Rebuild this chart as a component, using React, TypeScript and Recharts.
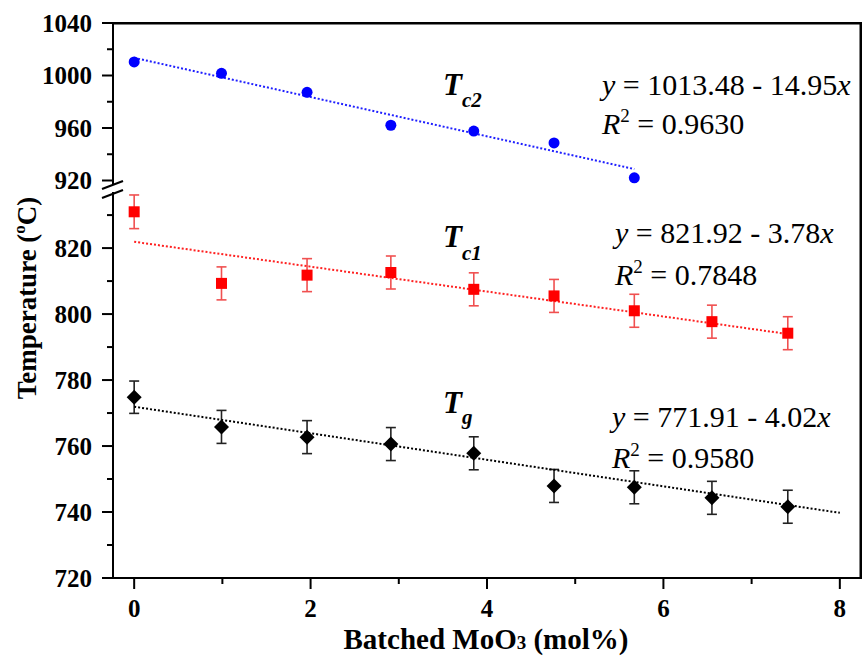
import React from 'react'
import { ScatterChart, Scatter, XAxis, YAxis, ErrorBar } from 'recharts'

// batched MoO3 content (mol%)
const molPct = [0, 0.99, 1.96, 2.91, 3.85, 4.76, 5.67, 6.55, 7.41]

// crystallisation / glass transition temperatures (°C)
const tc2Values = [1010.3, 1001.7, 987.2, 962.1, 957.7, 948.6, 922.0]
const tc1Values = [831.0, 809.3, 811.8, 812.6, 807.5, 805.5, 801.0, 797.7, 794.2]
const tc1Err = [5.1, 5, 5, 5, 5, 5, 5, 5, 5]
const tgValues = [774.8, 765.8, 762.7, 760.6, 757.8, 747.9, 747.5, 744.3, 741.6]
const tgErr = [4.9, 5, 5, 5, 5, 5, 5, 5, 5]

// linear fit end points
const tc2FitX = [0, 5.67]
const tc2FitY = [1013.48, 928.7]
const tc1FitX = [0, 7.45]
const tc1FitY = [821.92, 793.8]
const tgFitX = [0, 8]
const tgFitY = [771.91, 739.75]

const xTicks = [0, 1, 2, 3, 4, 5, 6, 7, 8]
const upperTicks = [920, 940, 960, 980, 1000, 1020, 1040]
const lowerTicks = [720, 730, 740, 750, 760, 770, 780, 790, 800, 810, 820, 830]

const xDomain = [-0.24, 8.24]
const upperDomain = [917.33, 1040]
const lowerDomain = [720, 837]

const FONT = '"Liberation Serif", "Times New Roman", serif'
const serif = { fontFamily: FONT }

const tc2Data = tc2Values.map((y, i) => ({ x: molPct[i], y }))
const tc1Data = tc1Values.map((y, i) => ({ x: molPct[i], y, err: tc1Err[i] }))
const tgData = tgValues.map((y, i) => ({ x: molPct[i], y, err: tgErr[i] }))
const toFit = (xs: number[], ys: number[]) => xs.map((x, i) => ({ x, y: ys[i] }))

const makeYTick = (step: number) => (props: any) => {
  const { x, y, payload } = props
  const major = payload.value % step === 0
  return (
    <g>
      <line x1={x - (major ? 11 : 6)} x2={x} y1={y} y2={y} stroke="#000" strokeWidth={2} />
      {major && (
        <text x={x - 21} y={y} dy="0.35em" textAnchor="end" fontSize={25} fontWeight="bold" style={serif} fill="#000">
          {payload.value}
        </text>
      )}
    </g>
  )
}

const XTick = (props: any) => {
  const { x, y, payload } = props
  const major = payload.value % 2 === 0
  return (
    <g>
      <line x1={x} x2={x} y1={y} y2={y + (major ? 11 : 6)} stroke="#000" strokeWidth={2} />
      {major && (
        <text x={x} y={y + 39} textAnchor="middle" fontSize={25} fontWeight="bold" style={serif} fill="#000">
          {payload.value}
        </text>
      )}
    </g>
  )
}

const Circle = (p: any) => <circle cx={p.cx} cy={p.cy} r={5.5} fill="#0000ff" />
const Square = (p: any) => <rect x={p.cx - 5.5} y={p.cy - 5.5} width={11} height={11} fill="#ff0000" />
const Diamond = (p: any) => (
  <polygon points={`${p.cx},${p.cy - 7.5} ${p.cx + 7.5},${p.cy} ${p.cx},${p.cy + 7.5} ${p.cx - 7.5},${p.cy}`} fill="#000" />
)
const NoShape = () => <g />

const axisLine = { stroke: '#000', strokeWidth: 2 }

export default function App() {
  return (
    <div style={{ position: 'absolute', left: 0, top: 0, width: 863, height: 662, background: '#fff' }}>
      {/* upper part: Tc2 */}
      <div style={{ position: 'absolute', left: 0, top: 0 }}>
        <ScatterChart width={863} height={200} margin={{ top: 23, right: 2, left: 0, bottom: 16 }}>
          <XAxis type="number" dataKey="x" domain={xDomain} allowDataOverflow hide />
          <YAxis type="number" dataKey="y" width={113} domain={upperDomain} allowDataOverflow ticks={upperTicks}
            interval={0} tickSize={0} tickMargin={0} tickLine={false} axisLine={axisLine} tick={makeYTick(40)} />
          <Scatter data={toFit(tc2FitX, tc2FitY)} shape={NoShape} isAnimationActive={false}
            line={{ stroke: '#1f1fff', strokeWidth: 2, strokeDasharray: '2 2' }} />
          <Scatter data={tc2Data} shape={Circle} isAnimationActive={false} />
        </ScatterChart>
      </div>

      {/* lower part: Tc1 and Tg */}
      <div style={{ position: 'absolute', left: 0, top: 0 }}>
        <ScatterChart width={863} height={662} margin={{ top: 192, right: 2, left: 0, bottom: 0 }}>
          <XAxis type="number" dataKey="x" domain={xDomain} allowDataOverflow ticks={xTicks} interval={0} height={84}
            tickSize={0} tickMargin={0} tickLine={false} axisLine={axisLine} tick={XTick} />
          <YAxis type="number" dataKey="y" width={113} domain={lowerDomain} allowDataOverflow ticks={lowerTicks}
            interval={0} tickSize={0} tickMargin={0} tickLine={false} axisLine={axisLine} tick={makeYTick(20)} />
          <Scatter data={toFit(tc1FitX, tc1FitY)} shape={NoShape} isAnimationActive={false}
            line={{ stroke: '#ff2020', strokeWidth: 2, strokeDasharray: '2 2' }} />
          <Scatter data={toFit(tgFitX, tgFitY)} shape={NoShape} isAnimationActive={false}
            line={{ stroke: '#000', strokeWidth: 2, strokeDasharray: '2 2' }} />
          <Scatter data={tc1Data} shape={Square} isAnimationActive={false}>
            <ErrorBar dataKey="err" direction="y" width={5} stroke="#f05050" strokeWidth={1.6} />
          </Scatter>
          <Scatter data={tgData} shape={Diamond} isAnimationActive={false}>
            <ErrorBar dataKey="err" direction="y" width={5} stroke="#222" strokeWidth={1.6} />
          </Scatter>
        </ScatterChart>
      </div>

      {/* frame, annotations, axis titles and axis break */}
      <svg width={863} height={662} style={{ position: 'absolute', left: 0, top: 0, pointerEvents: 'none', fontFamily: FONT }}
        fill="#000">
        <rect x={112} y={22} width={750} height={2.5} fill="#000" />
        <rect x={859.5} y={22} width={2.5} height={557} fill="#000" />
        <rect x={108} y={185} width={10} height={7} fill="#fff" />
        <line x1={102} y1={189} x2={123} y2={181} stroke="#000" strokeWidth={2} />
        <line x1={102} y1={198} x2={123} y2={190} stroke="#000" strokeWidth={2} />

        <text x={36} y={298} transform="rotate(-90 36 298)" textAnchor="middle" fontSize={27} fontWeight="bold" style={serif}>
          Temperature (<tspan fontSize={17} dy={-11}>o</tspan><tspan dy={11}>C)</tspan>
        </text>
        <text x={486} y={649} textAnchor="middle" fontSize={29} fontWeight="bold" style={serif}>
          Batched MoO<tspan fontSize={19}>3</tspan> (mol%)
        </text>

        <text x={443} y={95} fontSize={31} fontWeight="bold" fontStyle="italic" style={serif}>
          T<tspan fontSize={21} dy={12}>c2</tspan>
        </text>
        <text x={602} y={95} fontSize={30} style={serif}>
          <tspan fontStyle="italic">y</tspan> = 1013.48 - 14.95<tspan fontStyle="italic">x</tspan>
        </text>
        <text x={602} y={134} fontSize={30} style={serif}>
          <tspan fontStyle="italic">R</tspan><tspan fontSize={19} dy={-12}>2</tspan><tspan dy={12}> = 0.9630</tspan>
        </text>

        <text x={443} y={247} fontSize={31} fontWeight="bold" fontStyle="italic" style={serif}>
          T<tspan fontSize={21} dy={13}>c1</tspan>
        </text>
        <text x={615} y={243} fontSize={30} style={serif}>
          <tspan fontStyle="italic">y</tspan> = 821.92 - 3.78<tspan fontStyle="italic">x</tspan>
        </text>
        <text x={615} y={285} fontSize={30} style={serif}>
          <tspan fontStyle="italic">R</tspan><tspan fontSize={19} dy={-12}>2</tspan><tspan dy={12}> = 0.7848</tspan>
        </text>

        <text x={443} y={413} fontSize={31} fontWeight="bold" fontStyle="italic" style={serif}>
          T<tspan fontSize={21} dy={11}>g</tspan>
        </text>
        <text x={612} y={427} fontSize={30} style={serif}>
          <tspan fontStyle="italic">y</tspan> = 771.91 - 4.02<tspan fontStyle="italic">x</tspan>
        </text>
        <text x={612} y={468} fontSize={30} style={serif}>
          <tspan fontStyle="italic">R</tspan><tspan fontSize={19} dy={-12}>2</tspan><tspan dy={12}> = 0.9580</tspan>
        </text>
      </svg>
    </div>
  )
}
